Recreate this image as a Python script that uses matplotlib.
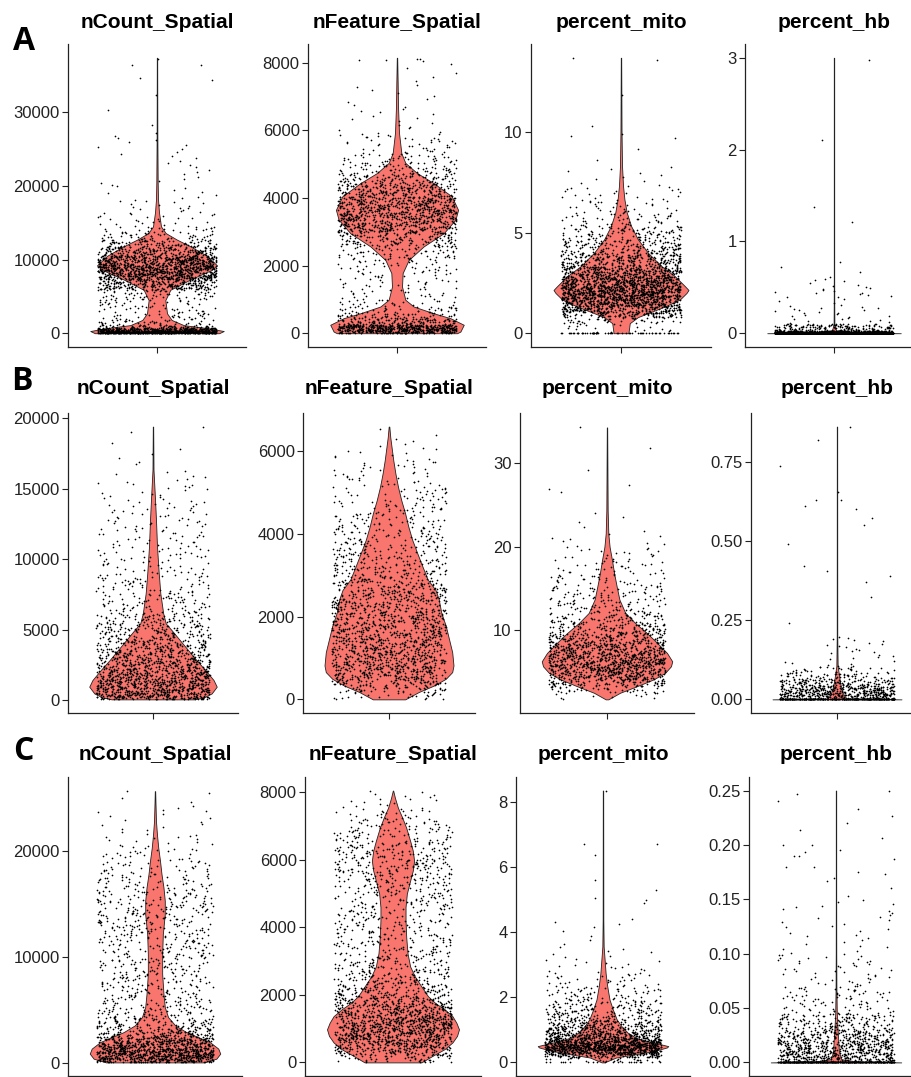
import numpy as np
import matplotlib
matplotlib.use("Agg")
import matplotlib.pyplot as plt

W, H = 912, 1077

titles = ["nCount_Spatial", "nFeature_Spatial", "percent_mito", "percent_hb"]
row_letters = ["A", "B", "C"]

# ---------------- Row A ----------------
a_ncount_grid = [0, 300, 700, 1100, 1800, 2700, 4500, 5900, 7300, 8600, 9200, 10500, 11800,
                 12700, 13600, 14500, 16400, 18200, 20500, 27300, 37400]
a_ncount_width = [0.93, 1.0, 0.75, 0.4, 0.22, 0.15, 0.125, 0.2, 0.5, 0.82, 0.9, 0.75, 0.5,
                  0.3, 0.13, 0.06, 0.03, 0.015, 0.01, 0.005, 0.003]
a_ncount_dots = [550, 300, 60, 40, 30, 50, 60, 250, 400, 220, 380, 200, 80, 40, 25, 25, 15, 10, 22, 5]
a_ncount_at_min = 0
a_ncount_extra = [37300, 36400, 34600]

a_nfeat_grid = [0, 50, 250, 445, 590, 790, 990, 1380, 1780, 2170, 2570, 2960, 3360, 3650, 4050,
                4440, 4740, 5040, 5330, 5930, 6720, 7400, 8150]
a_nfeat_width = [0.9, 0.95, 1.0, 0.8, 0.55, 0.25, 0.125, 0.075, 0.085, 0.175, 0.4, 0.7, 0.875,
                 0.915, 0.82, 0.55, 0.3, 0.125, 0.065, 0.03, 0.015, 0.01, 0.003]
a_nfeat_dots = [100, 450, 120, 50, 40, 25, 30, 30, 40, 70, 130, 250, 220, 280, 200, 100, 60, 40,
                40, 15, 8, 6]
a_nfeat_at_min = 0
a_nfeat_extra = [8100, 8100, 8080, 8050]

a_mito_grid = [0, 0.5, 0.8, 1.0, 1.33, 1.67, 2.0, 2.15, 2.33, 2.83, 3.33, 4.0, 4.67, 5.33, 6.0,
               6.67, 7.33, 8.33, 10, 13.7]
a_mito_width = [0.11, 0.13, 0.25, 0.4, 0.65, 0.87, 0.97, 1.0, 0.95, 0.8, 0.6, 0.4, 0.25, 0.15,
                0.085, 0.05, 0.03, 0.015, 0.008, 0.003]
a_mito_dots = [20, 40, 80, 200, 280, 320, 150, 170, 400, 300, 250, 150, 100, 50, 30, 20, 10, 3, 1]
a_mito_at_min = 60
a_mito_extra = [13.7, 13.6, 10.3, 9.9, 9.8]

a_hb_grid = [0, 0.01, 0.03, 0.1, 0.3, 0.6, 1.0, 3.0]
a_hb_width = [1.0, 0.3, 0.03, 0.006, 0.004, 0.003, 0.003, 0.003]
a_hb_dots = [500, 250, 150, 25, 15, 0, 0]
a_hb_at_min = 1500
a_hb_extra = [2.98, 2.1, 1.37, 1.21, 0.78, 0.72, 0.67, 0.61, 0.58, 0.5, 0.48, 0.46, 0.44, 0.44,
              0.42, 0.4]

# ---------------- Row B ----------------
b_ncount_grid = [50, 200, 470, 950, 1420, 2130, 2840, 3550, 4260, 4970, 5440, 6150, 7570, 9000,
                 10890, 12780, 14200, 15620, 16330, 19400]
b_ncount_width = [0.65, 0.8, 0.92, 1.0, 0.95, 0.82, 0.68, 0.55, 0.42, 0.29, 0.2, 0.16, 0.115,
                  0.09, 0.063, 0.047, 0.032, 0.016, 0.008, 0.003]
b_ncount_dots = [60, 110, 180, 170, 220, 180, 150, 120, 90, 60, 70, 80, 60, 55, 45, 30, 18, 6, 4]
b_ncount_at_min = 0
b_ncount_extra = [19400, 17800, 17200, 16900]

b_nfeat_grid = [0, 177, 337, 498, 660, 820, 1140, 1460, 1780, 2100, 2430, 2650, 2900, 3210, 3530,
                3860, 4180, 4500, 4820, 5140, 5460, 5780, 6100, 6340, 6600]
b_nfeat_width = [0.25, 0.46, 0.7, 0.88, 0.98, 1.0, 0.98, 0.93, 0.88, 0.81, 0.77, 0.72, 0.6, 0.52,
                 0.44, 0.36, 0.3, 0.25, 0.19, 0.14, 0.1, 0.067, 0.04, 0.02, 0.005]
b_nfeat_dots = [25, 45, 70, 90, 100, 190, 180, 170, 160, 150, 95, 90, 85, 75, 65, 55, 45, 38, 30,
                22, 18, 10, 4, 2]
b_nfeat_at_min = 0
b_nfeat_extra = []

b_mito_grid = [1.75, 2.54, 3.33, 4.13, 4.92, 5.71, 6.3, 7.3, 8.5, 9.7, 10.9, 12.1, 13.7, 15.2,
               16.8, 18.4, 20, 21.6, 24.4, 34.3]
b_mito_width = [0.02, 0.2, 0.46, 0.71, 0.89, 0.98, 1.0, 0.92, 0.77, 0.61, 0.43, 0.28, 0.19, 0.15,
                0.11, 0.077, 0.04, 0.02, 0.01, 0.003]
b_mito_dots = [10, 40, 90, 140, 170, 140, 210, 210, 160, 110, 75, 65, 50, 40, 30, 20, 8, 5, 2]
b_mito_at_min = 0
b_mito_extra = [34.4, 29.2, 27.4, 26.6]

b_hb_grid = [0, 0.003, 0.01, 0.02, 0.042, 0.063, 0.084, 0.105, 0.2, 0.86]
b_hb_width = [1.0, 0.15, 0.12, 0.09, 0.06, 0.04, 0.025, 0.01, 0.004, 0.003]
b_hb_dots = [20, 60, 130, 220, 120, 60, 30, 25, 8]
b_hb_at_min = 300
b_hb_extra = [0.86, 0.63, 0.63, 0.61, 0.6, 0.55, 0.42, 0.39, 0.37]

# ---------------- Row C ----------------
c_ncount_grid = [50, 400, 880, 1350, 1970, 2440, 2910, 3540, 4330, 5270, 6520, 8400, 10280, 12160,
                 14040, 15300, 16550, 17800, 19060, 20300, 21570, 22820, 24390, 25640]
c_ncount_width = [0.75, 0.94, 1.0, 0.97, 0.84, 0.66, 0.48, 0.31, 0.2, 0.15, 0.13, 0.11, 0.11,
                  0.12, 0.15, 0.15, 0.13, 0.1, 0.077, 0.05, 0.03, 0.015, 0.008, 0.003]
c_ncount_dots = [150, 250, 230, 220, 140, 90, 80, 70, 60, 60, 85, 85, 85, 95, 65, 55, 45, 35, 25,
                 15, 8, 8, 3]
c_ncount_at_min = 0
c_ncount_extra = [25700, 23800]

c_nfeat_grid = [0, 196, 392, 590, 785, 980, 1175, 1370, 1570, 1760, 1960, 2250, 2550, 2840, 3230,
                3720, 4210, 4600, 5000, 5385, 5680, 5970, 6270, 6560, 6950, 7250, 7540, 7830, 8050]
c_nfeat_width = [0.43, 0.6, 0.78, 0.9, 0.97, 1.0, 0.96, 0.9, 0.78, 0.64, 0.53, 0.43, 0.33, 0.26,
                 0.22, 0.2, 0.19, 0.19, 0.21, 0.26, 0.3, 0.32, 0.3, 0.26, 0.2, 0.14, 0.075, 0.03,
                 0.003]
c_nfeat_dots = [40, 90, 130, 150, 160, 160, 150, 130, 110, 95, 100, 80, 65, 70, 75, 70, 55, 60, 65,
                60, 65, 60, 55, 55, 35, 20, 10, 6]
c_nfeat_at_min = 0
c_nfeat_extra = []

c_mito_grid = [0, 0.15, 0.25, 0.36, 0.46, 0.5, 0.56, 0.66, 0.76, 0.91, 1.12, 1.32, 1.63, 1.93,
               2.34, 2.74, 3.15, 3.56, 4.37, 8.35]
c_mito_width = [0.02, 0.2, 0.5, 0.8, 0.98, 1.0, 0.88, 0.66, 0.5, 0.38, 0.28, 0.21, 0.15, 0.1,
                0.065, 0.04, 0.025, 0.01, 0.005, 0.003]
c_mito_dots = [30, 80, 200, 260, 110, 150, 200, 160, 170, 160, 110, 100, 70, 55, 30, 15, 8, 6, 1]
c_mito_at_min = 15
c_mito_extra = [8.35, 6.7, 6.7, 5.6, 5.3, 5.05, 5.0, 4.9, 4.4, 4.25]

c_hb_grid = [0, 0.001, 0.003, 0.01, 0.02, 0.03, 0.045, 0.07, 0.1, 0.15, 0.25]
c_hb_width = [1.0, 0.3, 0.08, 0.045, 0.035, 0.025, 0.012, 0.006, 0.004, 0.003, 0.003]
c_hb_dots = [30, 60, 200, 250, 180, 140, 80, 45, 30, 15]
c_hb_at_min = 300
c_hb_extra = [0.25, 0.2, 0.195, 0.19, 0.19, 0.18, 0.175, 0.17]

# tick values / labels
a_ticks = [[0, 10000, 20000, 30000], [0, 2000, 4000, 6000, 8000], [0, 5, 10], [0, 1, 2, 3]]
a_ticklabels = [["0", "10000", "20000", "30000"], ["0", "2000", "4000", "6000", "8000"],
                ["0", "5", "10"], ["0", "1", "2", "3"]]
b_ticks = [[0, 5000, 10000, 15000, 20000], [0, 2000, 4000, 6000], [10, 20, 30], [0, 0.25, 0.5, 0.75]]
b_ticklabels = [["0", "5000", "10000", "15000", "20000"], ["0", "2000", "4000", "6000"],
                ["10", "20", "30"], ["0.00", "0.25", "0.50", "0.75"]]
c_ticks = [[0, 10000, 20000], [0, 2000, 4000, 6000, 8000], [0, 2, 4, 6, 8],
           [0, 0.05, 0.1, 0.15, 0.2, 0.25]]
c_ticklabels = [["0", "10000", "20000"], ["0", "2000", "4000", "6000", "8000"],
                ["0", "2", "4", "6", "8"], ["0.00", "0.05", "0.10", "0.15", "0.20", "0.25"]]

rows = [
    [(a_ncount_grid, a_ncount_width, a_ncount_dots, a_ncount_at_min, a_ncount_extra),
     (a_nfeat_grid, a_nfeat_width, a_nfeat_dots, a_nfeat_at_min, a_nfeat_extra),
     (a_mito_grid, a_mito_width, a_mito_dots, a_mito_at_min, a_mito_extra),
     (a_hb_grid, a_hb_width, a_hb_dots, a_hb_at_min, a_hb_extra)],
    [(b_ncount_grid, b_ncount_width, b_ncount_dots, b_ncount_at_min, b_ncount_extra),
     (b_nfeat_grid, b_nfeat_width, b_nfeat_dots, b_nfeat_at_min, b_nfeat_extra),
     (b_mito_grid, b_mito_width, b_mito_dots, b_mito_at_min, b_mito_extra),
     (b_hb_grid, b_hb_width, b_hb_dots, b_hb_at_min, b_hb_extra)],
    [(c_ncount_grid, c_ncount_width, c_ncount_dots, c_ncount_at_min, c_ncount_extra),
     (c_nfeat_grid, c_nfeat_width, c_nfeat_dots, c_nfeat_at_min, c_nfeat_extra),
     (c_mito_grid, c_mito_width, c_mito_dots, c_mito_at_min, c_mito_extra),
     (c_hb_grid, c_hb_width, c_hb_dots, c_hb_at_min, c_hb_extra)],
]
row_ticks = [a_ticks, b_ticks, c_ticks]
row_ticklabels = [a_ticklabels, b_ticklabels, c_ticklabels]

# ---------------- layout (pixels) ----------------
row_vert = [(44, 347), (413, 713), (777, 1076)]          # axes top, bottom
col_horiz = [[(68, 157), (308, 397), (531, 621), (745, 834)],   # spine x, centre x
             [(68, 153), (303, 389), (520, 607), (751, 837)],
             [(68, 155), (305, 393), (516, 603), (749, 836)]]
title_y = [23, 389, 754]
letter_pos = [(24, 41), (22, 381), (23, 752)]

VIOLIN = "#F8766D"

plt.rcParams['font.family'] = ['Liberation Sans', 'DejaVu Sans']
fig = plt.figure(figsize=(W / 100, H / 100), dpi=100)
fig.patch.set_facecolor("white")


def spread(i, seed):
    # horizontal jitter position in [-1, 1) (a deterministic scatter, layout only)
    return 2.0 * ((np.sin(i * 12.9898 + seed * 78.233) * 43758.5453) % 1.0) - 1.0


def jitter(grid, dots, at_min, extra, seed):
    ys = []
    for lo, hi, n in zip(grid[:-1], grid[1:], dots):
        for j in range(n):
            ys.append(lo + (j + 0.5) / n * (hi - lo))
    ys += [grid[0]] * at_min + list(extra)
    idx = np.arange(len(ys))
    xs = 1.0 + 0.4 * spread(idx, seed)
    return xs, np.array(ys, dtype=float)


for r in range(3):
    top, bot = row_vert[r]
    for c in range(4):
        spine, cen = col_horiz[r][c]
        wpx = 2 * (cen - spine)
        ax = fig.add_axes([spine / W, 1 - bot / H, wpx / W, (bot - top) / H])
        grid, width, dots, at_min, extra = rows[r][c]
        g = np.array(grid, dtype=float)
        hw = 0.45 * np.array(width, dtype=float)
        ax.fill_betweenx(g, 1 - hw, 1 + hw, facecolor=VIOLIN, edgecolor="#222222",
                         linewidth=0.6, zorder=2)
        xs, ys = jitter(grid, dots, at_min, extra, seed=r * 4 + c + 1)
        ax.scatter(xs, ys, s=1.5, c="black", linewidths=0, zorder=3)
        lo = min(grid + list(extra))
        hi = max(grid + list(extra))
        pad = 0.05 * (hi - lo)
        ax.set_ylim(lo - pad, hi + pad)
        ax.set_xlim(0.4, 1.6)
        ax.set_xticks([1])
        ax.set_xticklabels([""])
        ax.set_yticks(row_ticks[r][c])
        ax.set_yticklabels(row_ticklabels[r][c])
        for s in ("top", "right"):
            ax.spines[s].set_visible(False)
        for s in ("left", "bottom"):
            ax.spines[s].set_linewidth(0.9)
            ax.spines[s].set_color("#222222")
        ax.tick_params(axis="both", length=4, width=0.8, color="#222222",
                       labelsize=12, labelcolor="#222222", pad=2)
        ax.set_facecolor("none")
        fig.text(cen / W, 1 - title_y[r] / H, titles[c], ha="center", va="center",
                 fontsize=15, fontweight="bold", color="black")
    lx, ly = letter_pos[r]
    fig.text(lx / W, 1 - ly / H, row_letters[r], ha="center", va="center",
             fontsize=23, fontweight="bold", family=["Open Sans", "DejaVu Sans"])

fig.savefig("out.png", dpi=100, facecolor="white")
